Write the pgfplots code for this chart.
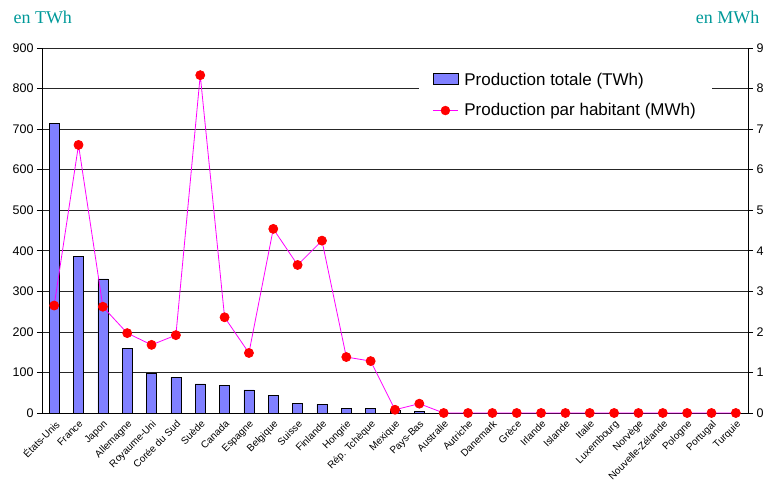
\documentclass[border=0pt]{standalone}
\usepackage{pgfplots}
\pgfplotsset{compat=1.18}
\usepackage{pgfplotstable}
\usepackage{fontspec}
\setmainfont{Liberation Sans}
\newfontfamily\seriffont{Liberation Serif}
\definecolor{barblue}{HTML}{8080FF}
\definecolor{tealt}{HTML}{009999}
\definecolor{magline}{HTML}{FF00FF}
\pgfplotstableread{
x tot hab
0 714 2.65
1 387 6.61
2 331 2.62
3 160 1.97
4 98 1.68
5 88 1.92
6 72 8.33
7 69 2.36
8 57 1.48
9 44 4.54
10 24 3.65
11 21 4.25
12 12 1.38
13 12 1.28
14 8 0.08
15 4 0.23
16 0 0
17 0 0
18 0 0
19 0 0
20 0 0
21 0 0
22 0 0
23 0 0
24 0 0
25 0 0
26 0 0
27 0 0
28 0 0
}\data
\begin{document}
\begin{tikzpicture}
\useasboundingbox (-42pt,-77pt) rectangle (727pt,413pt);
\pgfplotsset{
  every axis/.append style={
    scale only axis, width=706pt, height=365pt,
    xmin=-0.5, xmax=28.5,
    /pgf/number format/assume math mode=true,
    tick label style={font=\fontsize{12.5}{14}\selectfont},
  }
}
\begin{axis}[
  ymin=0, ymax=900, ytick={0,100,...,900},
  axis y line*=left, axis x line*=bottom,
  ymajorgrids, grid style={black!85, line width=0.7pt},
  y tick style={black, line width=0.6pt},
  tick align=outside, major tick length=5pt,
  xtick=data,
  xticklabels={États-Unis,France,Japon,Allemagne,Royaume-Uni,Corée du Sud,Suède,Canada,Espagne,Belgique,Suisse,Finlande,Hongrie,Rép. Tchèque,Mexique,Pays-Bas,Australie,Autriche,Danemark,Grèce,Irlande,Islande,Italie,Luxembourg,Norvège,Nouvelle-Zélande,Pologne,Portugal,Turquie},
  x tick label style={rotate=45, anchor=north east, font=\fontsize{10}{11}\selectfont, inner sep=1pt},
  x tick style={draw=none},
  axis line style={black, line width=0.8pt},
  clip=false,
]
\addplot[ybar, bar width=10pt, fill=barblue, draw=black, line width=0.5pt] table[x=x, y=tot] {\data};
\node[anchor=west, text=tealt, font=\seriffont\fontsize{18}{20}\selectfont] at (rel axis cs:0,1) [xshift=-32pt, yshift=31pt] {en TWh};
\node[anchor=east, text=tealt, font=\seriffont\fontsize{18}{20}\selectfont] at (rel axis cs:1,1) [xshift=15pt, yshift=31pt] {en MWh};
\end{axis}
\begin{axis}[
  ymin=0, ymax=9, ytick={0,1,...,9},
  axis y line*=right, axis x line=none,
  y tick style={black, line width=0.6pt},
  tick align=outside, major tick length=5pt,
  axis line style={black, line width=0.8pt},
  clip=false,
  legend style={at={(rel axis cs:0.533,0.9545)}, anchor=north west, draw=none, fill=white,
    font=\fontsize{17}{19}\selectfont, row sep=13pt, column sep=4pt, inner xsep=14pt, inner ysep=6pt},
  legend cell align=left,
]
\addlegendimage{legend image code/.code={\draw[fill=barblue, draw=black, line width=0.6pt] (0pt,-5pt) rectangle (25pt,6pt);}}
\addlegendentry{Production totale (TWh)}
\addlegendimage{legend image code/.code={\draw[magline, line width=0.8pt] (0pt,0pt) -- (25pt,0pt); \fill[red] (12.5pt,0pt) circle (4.5pt);}}
\addlegendentry{Production par habitant (MWh)}
\addplot[magline, line width=0.8pt, mark=*, mark size=4.5pt, mark options={fill=red, draw=red}, forget plot] table[x=x, y=hab] {\data};
\end{axis}
\end{tikzpicture}
\end{document}
